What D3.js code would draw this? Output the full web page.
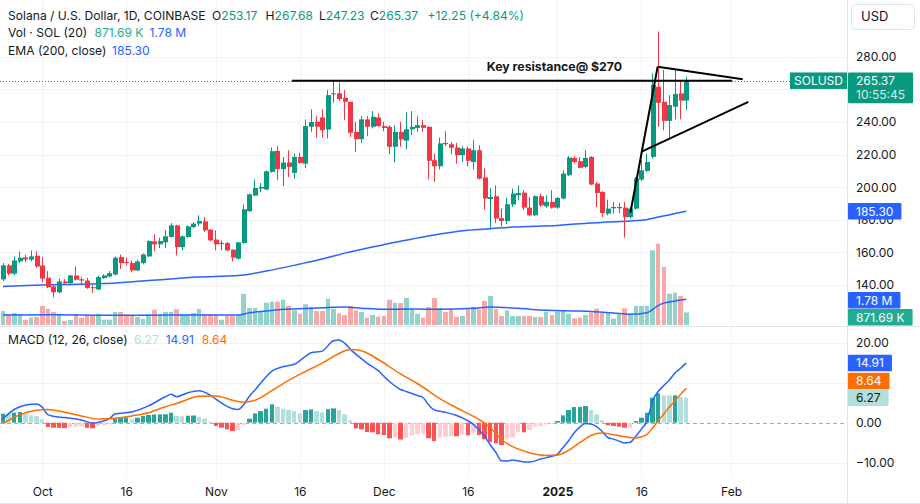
<!DOCTYPE html>
<html><head><meta charset="utf-8">
<script src="https://cdn.jsdelivr.net/npm/d3@7/dist/d3.min.js"></script>
<style>
html,body{margin:0;padding:0;background:#fff;}
svg{display:block;font-family:Inter,"Noto Sans",sans-serif;}
</style></head><body>
<svg id="c" width="920" height="504"></svg>
<script>
// ---------------- DATA ----------------
const startDate = "2024-09-24";
const endDate = "2025-01-24";
const opens = [143.5,152.1,147,154.5,157,155.6,158,152,144.5,139.2,
135.6,142.2,141.2,145.9,143.6,142.8,138.7,137.3,144.3,145.3,
146.5,157.2,154.1,153.5,149,153.5,157.6,166.8,165,166.2,
169.5,176.6,163.3,169.5,175.6,177.7,179.1,174,167.9,165.4,
165.8,161.7,156.2,165.8,185.4,194.9,199.2,198.6,209.4,222.3,
211.1,215.2,208.8,218.6,214.5,237.1,240.2,242.8,235.4,257,
257.6,254.9,252.4,234,229.5,241.6,237.1,242.8,237.5,237.1,
224.8,234,228.5,235.5,236.4,238.1,237.1,216.6,212.9,227.2,
226.4,224.4,219.7,223.8,215.5,222.7,206,192.8,194.5,181.1,
179.3,189.4,195.1,196.7,187.5,182.8,194.5,188.3,191,187.5,
193.1,207.4,218,216,212.5,218.6,202.3,197.1,183.8,187.1,
187.1,187.5,181.7,186.9,204.7,210,218.6,261.6,252.4,240.7,
249.4,257.6,253.17];
const highs = [153.5,153,157.6,160.7,158.6,161.3,160.7,157.2,148.6,140.8,
143.9,143.7,146.3,151.4,144.9,144.5,139.8,145.9,146.7,148.6,
157.6,158.8,156.8,155.1,155.6,159.3,167.4,171.1,169.1,173.6,
178,177,170.5,176.6,178.7,182.8,181.7,174.3,173.6,167.4,
166.4,162,166.5,189.6,196.1,204.7,202.6,210.2,224.4,225.2,
218.6,222.7,220.7,221.1,241.6,247.8,243.6,247.8,259.6,264.7,
264.1,259.6,252.6,240.1,243.6,243.6,246.7,245.3,240.1,238.1,
238.1,240.1,246.3,246.7,243.6,241.2,237.3,220.7,230.5,234.4,
227.8,227.2,225.2,224.8,228.9,225.8,211.5,199.6,201.2,186.9,
193.7,199.2,201.2,198.2,194,195.1,196.1,195.1,198.2,194,
210.4,219.1,219.1,218.6,222.7,219.1,203.3,197.7,192.4,191,
190.4,191,187.9,206.3,216.6,220.7,269.9,295.5,271.9,256.5,
271.9,265.8,267.68];
const lows = [142.4,146,146,153.5,154.1,154.5,150.6,141.8,138.1,132.6,
135,140.4,140.9,142.8,140.3,137.7,135.3,136.9,143.9,144.9,
145.9,150,152.1,147.8,148.6,152.7,157.2,160.7,162.7,162.7,
169.1,158.2,161.3,169.1,175,176.2,172.5,166.8,161.3,161.3,
160.7,154.5,155.7,165.4,184.8,194.5,197.1,198.2,209,204.3,
200.6,206.3,205.3,214.5,211.9,234,230.5,230.3,229.9,251.8,
253,241.2,230.9,221.7,227.2,231.3,236.1,237.1,234.4,220.3,
215.2,224.8,223.2,232,234,234,204.7,203.3,210.9,225.2,
220.3,214.5,215.5,212.9,210.9,204.7,186.3,174.6,178,176,
177.3,187.9,192,185.9,182.2,182.4,187.9,187.5,186.9,186.9,
192.6,206.8,214.6,211.5,211.5,201.2,187.9,181.7,182.8,183.8,
184.2,169.1,180.8,186.3,203.9,209.4,217.6,237.1,235,229.3,
241.6,241.6,247.23];
const closes = [152.1,147,155.1,156.8,155.7,157.6,151.4,144,138.7,135.6,
142.2,141.2,145.9,143.3,142.8,138.3,138.1,144.9,145.9,147.3,
156.8,153.5,153.5,149,154.5,158.8,167,165,167,169.9,
176.6,163.3,169.9,176,177.7,179.3,173.6,167.4,165,165.8,
161.3,156.8,166.2,186.5,195.7,199.6,200.2,209.8,222.1,211.1,
215.2,212.5,218.6,214.9,237.5,240,237.1,235,256.5,257.6,
254.1,252.4,233.4,229.5,241.6,237.1,243.2,237.5,236.4,224.8,
234,229.3,235.6,237.1,238.1,236.4,216.2,212.9,226.9,226.4,
224.2,219.7,223.8,216.2,222.7,205.3,193.1,194,180.8,179.3,
189.6,196.1,196.5,187.5,182.8,194.5,188.9,191,187.5,193.4,
208.4,218.2,215.5,211.9,218,201.7,196.5,184.2,186.9,187.9,
187.9,181.7,186.9,205.3,210.4,215.5,262.7,251.8,240.7,250.4,
257.2,253.12,265.37];
// volume, millions of SOL
const volumes = [0.97,0.69,0.83,0.74,0.37,0.51,0.56,1.32,1.13,0.90,
0.78,0.28,0.35,0.78,0.51,0.67,0.67,0.78,0.37,0.37,
0.90,0.90,0.74,0.63,0.56,0.44,0.74,1.06,0.74,0.90,
0.90,1.09,0.74,0.74,0.83,1.11,0.74,0.74,0.74,0.37,
0.63,0.63,0.69,2.15,1.18,1.18,0.90,1.55,1.62,1.62,
1.76,1.32,1.02,0.78,1.44,1.25,0.97,0.97,1.83,1.13,
0.81,0.69,1.32,1.02,0.90,0.51,0.69,0.58,0.63,1.76,
1.53,1.53,1.88,1.09,0.78,0.51,1.25,1.88,1.16,0.92,
1.11,0.58,0.63,1.09,1.25,1.09,1.67,2.01,1.11,0.63,
1.02,0.63,0.63,0.63,0.63,0.56,0.56,0.92,0.69,0.92,
0.97,0.78,0.47,0.51,0.69,0.85,1.13,0.85,0.90,0.44,
0.74,1.16,0.78,1.32,1.32,1.32,5.19,5.65,4.03,2.17,
2.24,2.01,0.87169];
// [candle index, value] readings of the volume MA (20), millions
const volMA = [[0,0.69],[10,0.72],[20,0.68],[30,0.69],[42,0.69],[44,0.85],[47,0.97],[50,1.09],[54,1.15],[57,1.2],[61,1.25],[64,1.17],[68,1.09],[73,1.11],[78,1.09],[84,1.16],[87,1.25],[92,1.16],[97,1.02],[103,0.97],[109,0.83],[112,0.74],[115,0.85],[116,1.08],[117,1.35],[118,1.52],[119,1.6],[120,1.67],[121,1.73],[122,1.78]];
const ema200 = [[0,139.2],[8,140.2],[17,140.8],[26,142.8],[35,144.9],[42,145.9],[47,148.6],[53,152.9],[57,156.0],[61,159.6],[68,164.8],[76,170.1],[83,173.6],[87,174.6],[91,175.6],[99,176.6],[108,178.7],[114,179.7],[117,181.7],[122,185.3]];
const macdLine = [[0,1.0],[2,3.3],[5,4.6],[6,4.7],[7,3.9],[8,2.0],[9,1.6],[11,1.3],[14,0.7],[16,-0.1],[17,0.1],[19,1.0],[20,2.2],[23,2.7],[26,4.2],[29,6.5],[30,7.1],[31,6.5],[33,7.5],[35,8.0],[37,6.9],[38,5.9],[40,4.1],[41,3.5],[42,3.3],[43,4.5],[44,6.6],[45,8.2],[47,11.5],[48,12.9],[50,14.0],[52,14.6],[54,16.6],[55,17.5],[57,17.9],[59,20.5],[60,20.7],[61,19.9],[62,18.4],[64,16.0],[65,14.9],[67,13.0],[69,10.3],[71,8.3],[72,7.8],[74,6.8],[75,6.3],[76,4.5],[77,3.2],[79,2.6],[81,1.8],[83,0.5],[84,-0.4],[85,-1.8],[86,-3.4],[87,-5.5],[88,-7.4],[89,-9.5],[90,-9.6],[91,-9.3],[92,-9.6],[93,-9.8],[94,-9.85],[96,-9.1],[98,-8.4],[99,-7.9],[100,-6.2],[101,-4.5],[102,-2.5],[103,-1.1],[104,-0.2],[105,-0.3],[106,-1.0],[107,-2.2],[108,-3.7],[109,-4.1],[110,-4.6],[111,-5.1],[112,-4.9],[113,-3.4],[114,-1.6],[115,0.4],[116,5.5],[117,7.8],[118,9.3],[119,10.7],[120,12.4],[121,13.6],[122,14.91]];
const signalLine = [[0,-0.2],[3,2.0],[6,3.1],[8,3.3],[11,2.6],[14,1.7],[17,0.9],[20,1.1],[23,1.7],[26,2.5],[29,4.0],[31,4.8],[35,6.6],[38,6.7],[41,5.6],[43,5.1],[45,5.6],[48,8.0],[51,10.6],[54,12.8],[57,14.9],[60,17.3],[62,18.3],[64,18.0],[67,15.8],[71,12.2],[74,9.8],[78,6.0],[82,3.0],[85,0.8],[87,-1.2],[89,-4.2],[91,-6.0],[94,-7.5],[97,-8.2],[99,-8.1],[101,-6.9],[103,-5.0],[105,-3.2],[107,-2.6],[109,-3.0],[111,-3.5],[113,-3.8],[114,-3.5],[115,-2.9],[116,-1.3],[117,0.5],[118,2.2],[119,3.9],[120,5.5],[121,7.1],[122,8.64]];
const macdHist = [2.25,2.1,2.5,2.67,2.25,1.9,1.67,0.83,-1.08,-1.25,
-1.3,-1.35,-1.1,-1.0,-0.95,-1.3,-1.4,-0.83,-0.67,-0.42,
1.0,1.25,1.3,0.83,1.25,1.67,1.92,2.05,2.08,2.1,
2.5,1.67,1.6,1.75,1.8,1.5,1.0,0.25,-0.83,-1.25,
-1.67,-2.08,-1.83,-0.58,1.0,2.33,2.9,3.5,4.6,4.0,
3.5,3.17,2.9,2.33,3.17,3.33,2.9,2.6,3.4,3.58,
3.17,2.1,0.58,-1.42,-1.67,-2.33,-2.4,-2.92,-3.08,-3.9,
-3.6,-4.2,-3.75,-3.2,-2.9,-2.7,-3.9,-4.6,-3.75,-3.5,
-3.33,-3.4,-2.9,-3.17,-2.5,-3.1,-4.17,-4.83,-5.17,-5.58,
-4.17,-3.75,-2.33,-2.4,-1.83,-1.0,-0.83,-0.42,-0.25,0.42,
1.83,3.17,3.92,3.95,4.17,3.17,2.08,0.58,-0.67,-0.83,
-1.0,-1.25,-1.2,0.42,1.25,2.5,6.25,7.33,6.83,6.8,
6.85,6.4,6.27];
const priceGridTicks = [140,160,180,200,220,240,260,280];
const priceLabelTicks = [140,160,180,200,220,240,280];
const macdTicks = [-10,0,10,20];
const timeTicks = ["2024-10-01","2024-10-16","2024-11-01","2024-11-16","2024-12-01","2024-12-16","2025-01-01","2025-01-16","2025-02-01"];
const timeTickLabels = ["Oct","16","Nov","16","Dec","16","2025","16","Feb"];
// drawings: [candle index, price]
const resistanceLine = [[51.6,265.3],[130.2,265.3]];
const triangleUpper = [[116.9,273.9],[132.1,266.2]];
const triangleLower = [[114.05,221.8],[133.1,252.4]];
const risingLeg = [[112.05,184.5],[116.9,273.9]];
const resistanceText = "Key resistance@ $270";

// ---------------- SCALES ----------------
const svg = d3.select("#c");
const parse = d3.utcParse("%Y-%m-%d");
const dates = d3.utcDay.range(parse(startDate), d3.utcDay.offset(parse(endDate), 1));
const PR = 847; // plot right
const x = d3.scaleUtc().domain([parse("2024-09-24"), parse("2025-02-01")]).range([3, 731]);
const xi = i => x(d3.utcMinute.offset(dates[0], Math.round(i * 1440)));
const y = d3.scaleLinear().domain([140, 280]).range([285.1, 56.8]);
const yv = d3.scaleLinear().domain([0, 6]).range([325, 325 - 6 * 14.4]);
const ym = d3.scaleLinear().domain([-10, 20]).range([462.7, 342.7]);

const UP = "#089981", DN = "#f23645", TXT = "#131722", BLUE = "#2962ff", ORANGE = "#ff6d00";
const GRID = "#f0f3fa";

svg.append("rect").attr("width", 920).attr("height", 504).attr("fill", "#fff");
svg.append("defs").append("clipPath").attr("id", "plot").append("rect")
  .attr("x", 0).attr("y", 0).attr("width", PR).attr("height", 478);

// ---------------- GRID ----------------
const grid = svg.append("g");
timeTicks.forEach(t => {
  const xx = Math.round(x(parse(t))) + 0.5;
  grid.append("line").attr("x1", xx).attr("x2", xx).attr("y1", 0).attr("y2", 478).attr("stroke", GRID);
});
priceGridTicks.forEach(p => {
  const yy = Math.round(y(p)) + 0.5;
  grid.append("line").attr("x1", 0).attr("x2", PR).attr("y1", yy).attr("y2", yy).attr("stroke", GRID);
});
macdTicks.filter(v => v !== 0).forEach(v => {
  const yy = Math.round(ym(v)) + 0.5;
  grid.append("line").attr("x1", 0).attr("x2", PR).attr("y1", yy).attr("y2", yy).attr("stroke", GRID);
});
grid.append("line").attr("x1", 0).attr("x2", PR).attr("y1", Math.round(ym(0)) + 0.5).attr("y2", Math.round(ym(0)) + 0.5)
  .attr("stroke", "#a8abb3").attr("stroke-dasharray", "4,3");
// pane borders
svg.append("line").attr("x1", 0).attr("x2", 920).attr("y1", 326.5).attr("y2", 326.5).attr("stroke", "#e0e3eb");
svg.append("line").attr("x1", PR + 0.5).attr("x2", PR + 0.5).attr("y1", 0).attr("y2", 504).attr("stroke", "#e0e3eb");
svg.append("line").attr("x1", 0).attr("x2", 920).attr("y1", 503.5).attr("y2", 503.5).attr("stroke", "#e0e3eb");

const plot = svg.append("g").attr("clip-path", "url(#plot)");

// ---------------- VOLUME ----------------
const isUp = i => closes[i] >= opens[i];
plot.append("g").selectAll("rect").data(volumes).join("rect")
  .attr("x", (d, i) => Math.round(xi(i) - 2.3))
  .attr("width", (d, i) => Math.round(xi(i) + 2.3) - Math.round(xi(i) - 2.3))
  .attr("y", d => yv(d)).attr("height", d => yv(0) - yv(d))
  .attr("fill", (d, i) => isUp(i) ? "#92d2cc" : "#f7a9a7");
const lineGen = (sc) => d3.line().x(d => xi(d[0])).y(d => sc(d[1])).curve(d3.curveMonotoneX);
plot.append("path").datum(volMA).attr("d", lineGen(yv)).attr("fill", "none").attr("stroke", BLUE).attr("stroke-width", 1.5);

// ---------------- EMA ----------------
plot.append("path").datum(ema200).attr("d", lineGen(y)).attr("fill", "none").attr("stroke", BLUE).attr("stroke-width", 1.5);

// ---------------- CANDLES ----------------
const cg = plot.append("g");
dates.forEach((d, i) => {
  const cx = xi(i);
  const col = isUp(i) ? UP : DN;
  cg.append("rect").attr("x", Math.floor(cx)).attr("width", 1)
    .attr("y", y(highs[i])).attr("height", y(lows[i]) - y(highs[i])).attr("fill", col);
  const top = y(Math.max(opens[i], closes[i])), bot = y(Math.min(opens[i], closes[i]));
  const l = Math.round(cx - 2), r = Math.round(cx + 2);
  cg.append("rect").attr("x", l).attr("width", r - l + 1)
    .attr("y", top).attr("height", Math.max(1, bot - top)).attr("fill", col);
});

// current price line
const lastClose = closes[closes.length - 1];
svg.append("line").attr("x1", 0).attr("x2", 790).attr("y1", Math.round(y(lastClose)) + 0.5).attr("y2", Math.round(y(lastClose)) + 0.5)
  .attr("stroke", UP).attr("stroke-dasharray", "1,2");

// ---------------- DRAWINGS ----------------
const dl = d3.line().x(d => xi(d[0])).y(d => y(d[1]));
[resistanceLine, triangleUpper, triangleLower, risingLeg].forEach(seg => {
  svg.append("path").datum(seg).attr("d", dl).attr("fill", "none").attr("stroke", "#000").attr("stroke-width", 2);
});
svg.append("text").attr("x", xi(86.4)).attr("y", y(resistanceLine[0][1]) - 9.5)
  .attr("font-size", 12.3).attr("font-weight", 700).attr("fill", TXT).text(resistanceText);

// ---------------- MACD ----------------
const histColor = (v, i) => {
  const prev = i > 0 ? macdHist[i - 1] : v;
  if (v >= 0) return v >= prev ? "#26a69a" : "#b2dfdb";
  return v <= prev ? "#ff5252" : "#ffcdd2";
};
plot.append("g").selectAll("rect").data(macdHist).join("rect")
  .attr("x", (d, i) => Math.round(xi(i) - 2.2))
  .attr("width", (d, i) => Math.round(xi(i) + 2.2) - Math.round(xi(i) - 2.2))
  .attr("y", d => Math.min(ym(d), ym(0))).attr("height", d => Math.abs(ym(d) - ym(0)))
  .attr("fill", histColor);
plot.append("path").datum(macdLine).attr("d", lineGen(ym)).attr("fill", "none").attr("stroke", BLUE).attr("stroke-width", 1.5);
plot.append("path").datum(signalLine).attr("d", lineGen(ym)).attr("fill", "none").attr("stroke", ORANGE).attr("stroke-width", 1.5);

// ---------------- AXES ----------------
const styleAxis = g => { g.select(".domain").remove(); g.selectAll("line").remove();
  g.attr("font-family", "Inter, 'Noto Sans', sans-serif").attr("font-size", 12);
  g.selectAll("text").attr("fill", TXT); };
svg.append("g").attr("transform", "translate(848,0)")
  .call(d3.axisRight(y).tickValues(priceLabelTicks).tickFormat(d3.format(".2f")).tickSize(0).tickPadding(8)).call(styleAxis);
svg.append("g").attr("transform", "translate(848,0)")
  .call(d3.axisRight(ym).tickValues(macdTicks).tickFormat(d3.format(".2f")).tickSize(0).tickPadding(8)).call(styleAxis);
const xAxis = svg.append("g").attr("transform", "translate(0,479)")
  .call(d3.axisBottom(x).tickValues(timeTicks.map(parse)).tickFormat((d, i) => timeTickLabels[i]).tickSize(0).tickPadding(8)).call(styleAxis);
xAxis.selectAll("text").filter((d, i) => timeTickLabels[i] === "2025").attr("font-weight", 700);

// ---------------- LABEL BOXES ----------------
function box(yc, h, bg, fg, lines, left) {
  const g = svg.append("g");
  const r = g.append("rect").attr("x", left).attr("y", yc - 8.2).attr("height", h).attr("fill", bg).attr("rx", 1);
  let w = 0;
  lines.forEach((s, k) => {
    const t = g.append("text").attr("x", left + 8).attr("y", yc + 4.3 + k * 14).attr("font-size", 12).attr("fill", k ? "rgba(255,255,255,0.85)" : fg).text(s);
    w = Math.max(w, t.node().getComputedTextLength());
  });
  r.attr("width", w + 16);
  return g;
}
const f2 = d3.format(".2f");
// price label
box(y(lastClose), 30.7, UP, "#fff", [f2(lastClose), "10:55:45"], 848);
// SOLUSD tag
svg.append("rect").attr("x", 790).attr("y", y(lastClose) - 8.2).attr("width", 57).attr("height", 16.5).attr("fill", UP);
svg.append("text").attr("x", 818.5).attr("y", y(lastClose) + 4.3).attr("text-anchor", "middle").attr("font-size", 12).attr("fill", "#fff").text("SOLUSD");
// EMA
const emaLast = ema200[ema200.length - 1][1];
box(y(emaLast), 16.5, BLUE, "#fff", [f2(emaLast)], 848);
// Volume labels
const volLast = volumes[volumes.length - 1];
const maLast = volMA[volMA.length - 1][1];
const fmtK = v => v < 1 ? d3.format(".2f")(v * 1000) + " K" : d3.format(".2f")(v) + " M";
const volY = 317.2;
const maY = Math.min(yv(maLast) + 1, volY - 16.9);
box(maY, 16.5, BLUE, "#fff", [fmtK(maLast)], 848);
box(volY, 16.5, "#22ab94", "#fff", [fmtK(volLast)], 848);
// MACD labels (stack bottom-up)
const hLast = macdHist[macdHist.length - 1], mLast = macdLine[macdLine.length - 1][1], sLast = signalLine[signalLine.length - 1][1];
const yH = ym(hLast);
const yS = Math.min(ym(sLast), yH - 16.7);
const yM = Math.min(ym(mLast), yS - 16.7);
box(yM, 16.5, BLUE, "#fff", [f2(mLast)], 848);
box(yS, 16.5, ORANGE, "#fff", [f2(sLast)], 848);
box(yH, 16.5, "#b2dfdb", TXT, [f2(hLast)], 848);

// USD button
svg.append("rect").attr("x", 851.5).attr("y", 4.5).attr("width", 63).attr("height", 25).attr("rx", 4).attr("fill", "#fff").attr("stroke", "#e0e3eb");
svg.append("text").attr("x", 861).attr("y", 21).attr("font-size", 13).attr("fill", TXT).text("USD");

// ---------------- LEGENDS ----------------
function seg(xx, yy, parts) {
  const t = svg.append("text").attr("x", xx).attr("y", yy).attr("font-size", 12.1);
  parts.forEach(p => t.append("tspan").attr("fill", p[1]).text(p[0]));
}
const n = closes.length - 1;
const chg = closes[n] - closes[n - 1];
seg(8, 19.5, [["Solana / U.S. Dollar, 1D, COINBASE", TXT]]);
seg(212, 19.5, [["O", TXT], [f2(opens[n]), UP]]);
seg(265.5, 19.5, [["H", TXT], [f2(highs[n]), UP]]);
seg(319, 19.5, [["L", TXT], [f2(lows[n]), UP]]);
seg(370, 19.5, [["C", TXT], [f2(closes[n]), UP]]);
seg(427.5, 19.5, [[(chg >= 0 ? "+" : "") + f2(chg) + " (" + (chg >= 0 ? "+" : "") + f2(chg / closes[n - 1] * 100) + "%)", UP]]);
seg(8, 37, [["Vol · SOL (20)", TXT]]);
seg(94.5, 37, [[fmtK(volLast), "#22ab94"]]);
seg(149.5, 37, [[fmtK(maLast), BLUE]]);
seg(8, 54.5, [["EMA (200, close)", TXT]]);
seg(112, 54.5, [[f2(emaLast), BLUE]]);
seg(8, 343.5, [["MACD (12, 26, close)", TXT]]);
seg(134, 343.5, [[f2(hLast), "#b2dfdb"]]);
seg(165.7, 343.5, [[f2(mLast), BLUE]]);
seg(201.7, 343.5, [[f2(sLast), ORANGE]]);
</script>
</body></html>
